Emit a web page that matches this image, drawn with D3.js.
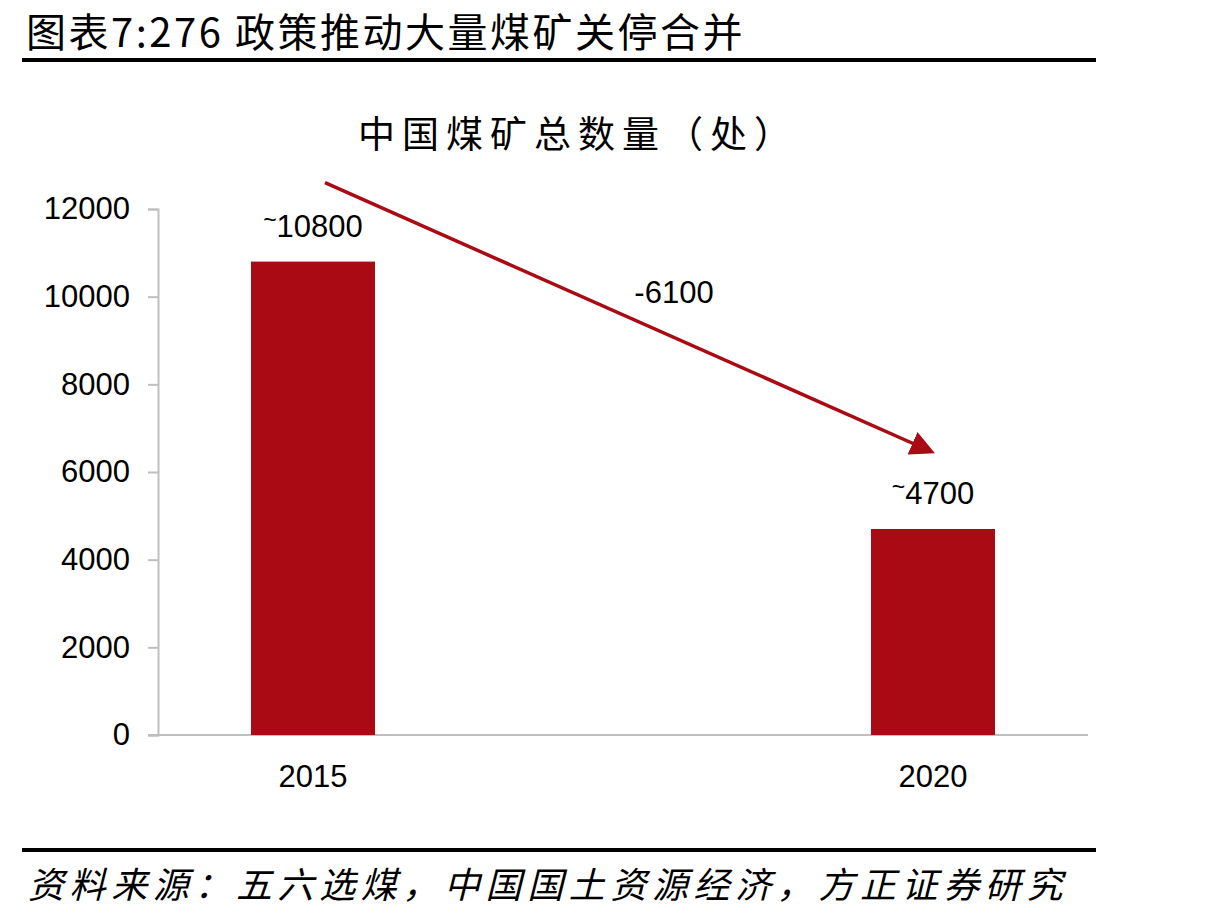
<!DOCTYPE html>
<html>
<head>
<meta charset="utf-8">
<script src="https://cdn.jsdelivr.net/npm/d3@7"></script>
<style>
  body { margin: 0; background: #fff; }
  svg { display: block; }
</style>
</head>
<body>
<svg id="chart" width="1221" height="919"></svg>
<script>
const years = ["2015", "2020"];
const mines = [10800, 4700];
const barLabels = ["~10800", "~4700"];
const yTicks = [0, 2000, 4000, 6000, 8000, 10000, 12000];
const changeLabel = "-6100";
const arrowFrom = 12600;
const arrowTo = 6450;

const red = "#a90a13";
const cjk = "'Noto Sans CJK SC', sans-serif";
const num = "'Liberation Sans', Arial, sans-serif";

const svg = d3.select("#chart");

// header
svg.append("text")
  .attr("x", 26).attr("y", 47)
  .style("font-family", cjk).style("font-size", "40px").style("letter-spacing", "2.5px")
  .text("图表7:276 政策推动大量煤矿关停合并");
svg.append("line")
  .attr("x1", 22).attr("x2", 1096).attr("y1", 60).attr("y2", 60)
  .attr("stroke", "#000").attr("stroke-width", 4);

svg.append("text")
  .attr("x", 578).attr("y", 148)
  .attr("text-anchor", "middle")
  .style("font-family", cjk).style("font-size", "37px").style("letter-spacing", "7px")
  .text("中国煤矿总数量（处）");

const x = d3.scaleBand()
  .domain(years)
  .range([158, 1088])
  .paddingInner(0.8)
  .paddingOuter(0.15);

const y = d3.scaleLinear()
  .domain([0, 12000])
  .range([735, 209]);

// y axis
const yAxis = svg.append("g")
  .attr("transform", "translate(158,0)")
  .call(d3.axisLeft(y).tickValues(yTicks).tickSize(10).tickPadding(18).tickFormat(d3.format("d")));
yAxis.select(".domain").attr("stroke", "#bfbfbf").attr("stroke-width", 2);
yAxis.selectAll(".tick line").attr("stroke", "#bfbfbf").attr("stroke-width", 2);
yAxis.selectAll("text").style("font-family", num).style("font-size", "31px").attr("fill", "#000");

// x axis
svg.append("line")
  .attr("x1", 148).attr("x2", 1088).attr("y1", y(0)).attr("y2", y(0))
  .attr("stroke", "#bfbfbf").attr("stroke-width", 2);

svg.selectAll(".xlab")
  .data(years)
  .join("text")
  .attr("class", "xlab")
  .attr("x", d => x(d) + x.bandwidth() / 2)
  .attr("y", 787)
  .attr("text-anchor", "middle")
  .style("font-family", num).style("font-size", "31px")
  .text(d => d);

// bars
svg.selectAll(".bar")
  .data(mines)
  .join("rect")
  .attr("class", "bar")
  .attr("x", (d, i) => x(years[i]))
  .attr("width", x.bandwidth())
  .attr("y", d => y(d))
  .attr("height", d => y(0) - y(d))
  .attr("fill", red);

// value labels with raised tilde
const lab = svg.selectAll(".vlab")
  .data(mines)
  .join("text")
  .attr("class", "vlab")
  .attr("x", (d, i) => x(years[i]) + x.bandwidth() / 2)
  .attr("y", d => y(d) - 25)
  .attr("text-anchor", "middle")
  .style("font-family", num).style("font-size", "31px");
lab.append("tspan").attr("dy", -9).style("font-size", "23px").text((d, i) => barLabels[i][0]);
lab.append("tspan").attr("dy", 9).text((d, i) => barLabels[i].slice(1));

// arrow
svg.append("defs").append("marker")
  .attr("id", "head")
  .attr("viewBox", "0 0 10 10")
  .attr("refX", 2).attr("refY", 5)
  .attr("markerWidth", 7).attr("markerHeight", 7)
  .attr("markerUnits", "strokeWidth")
  .attr("orient", "auto")
  .append("path").attr("d", "M0,0 L10,5 L0,10 Z").attr("fill", red);

const ax1 = x("2015") + x.bandwidth() / 2 + 12;
const ax2 = x("2020") + x.bandwidth() / 2 - 16;
svg.append("line")
  .attr("x1", ax1).attr("y1", y(arrowFrom))
  .attr("x2", ax2).attr("y2", y(arrowTo) - 7)
  .attr("stroke", red).attr("stroke-width", 3.5)
  .attr("marker-end", "url(#head)");

svg.append("text")
  .attr("x", 674).attr("y", 303)
  .attr("text-anchor", "middle")
  .style("font-family", num).style("font-size", "31px")
  .text(changeLabel);

// footer
svg.append("line")
  .attr("x1", 22).attr("x2", 1096).attr("y1", 850).attr("y2", 850)
  .attr("stroke", "#000").attr("stroke-width", 4);
svg.append("text")
  .attr("x", 28).attr("y", 898)
  .style("font-family", cjk).style("font-size", "36px").style("font-style", "italic")
  .style("letter-spacing", "5.6px")
  .text("资料来源：五六选煤，中国国土资源经济，方正证券研究");
</script>
</body>
</html>
